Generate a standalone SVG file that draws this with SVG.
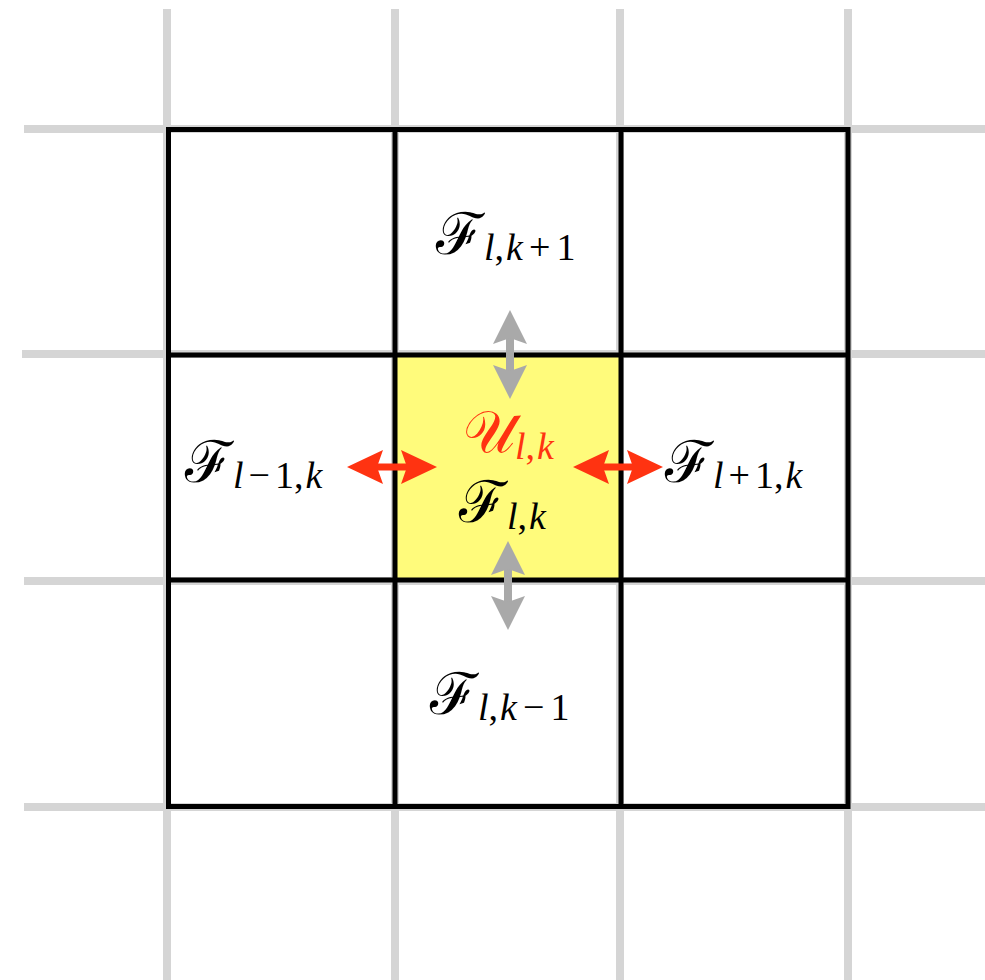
<svg xmlns="http://www.w3.org/2000/svg" width="985" height="980" viewBox="0 0 985 980">
<style>
.bg{stroke:#d5d5d5;stroke-width:8;fill:none}
.cell{fill:none;stroke:#000;stroke-width:5}
.main{font-family:"DejaVu Serif","Liberation Serif",serif;font-size:58px}
.sub{font-family:"Liberation Serif",serif;font-size:38px}
.it{font-style:italic}
.red{fill:#ff3311}
.blk{fill:#000}
.ar-red{stroke:#ff3311;stroke-width:7;fill:none}
.ar-gray{stroke:#a9a9a9;stroke-width:8;fill:none}
</style>
<defs>
<marker id="hr" markerUnits="userSpaceOnUse" markerWidth="60" markerHeight="60" refX="0" refY="0" viewBox="-30 -30 60 60" orient="auto-start-reverse" overflow="visible">
<path d="M20,0 L-16,-17 L-10,0 L-16,17 Z" fill="#ff3311"/>
</marker>
<marker id="hg" markerUnits="userSpaceOnUse" markerWidth="60" markerHeight="60" refX="0" refY="0" viewBox="-30 -30 60 60" orient="auto-start-reverse" overflow="visible">
<path d="M20,0 L-14,-17 L-8,0 L-14,17 Z" fill="#a9a9a9"/>
</marker>
</defs>
<rect width="985" height="980" fill="#fff"/>
<g id="background-grid" class="bg">
<line x1="167" y1="9" x2="167" y2="980"/>
<line x1="395" y1="9" x2="395" y2="980"/>
<line x1="620" y1="9" x2="620" y2="980"/>
<line x1="848" y1="9" x2="848" y2="980"/>
<line x1="24" y1="129" x2="985" y2="129"/>
<line x1="22" y1="354" x2="985" y2="354"/>
<line x1="24" y1="581" x2="985" y2="581"/>
<line x1="24" y1="807" x2="985" y2="807"/>
</g>
<g id="cell-center">
<rect x="395" y="355" width="226" height="226" fill="#fffb7b"/>
</g>
<g id="cells" class="cell">
<rect x="168.5" y="129.5" width="679.5" height="677"/>
<line x1="395" y1="129.5" x2="395" y2="806.5"/>
<line x1="621" y1="129.5" x2="621" y2="806.5"/>
<line x1="168.5" y1="355" x2="848" y2="355"/>
<line x1="168.5" y1="580" x2="848" y2="580"/>
</g>
<g id="label-top">
<text x="436" y="254" class="main blk">ℱ<tspan class="sub it" dy="6">l</tspan><tspan class="sub">,</tspan><tspan class="sub it" dx="2">k</tspan><tspan class="sub" dx="6">+</tspan><tspan class="sub" dx="6">1</tspan></text>
</g>
<g id="label-bottom">
<text x="430" y="714" class="main blk">ℱ<tspan class="sub it" dy="6">l</tspan><tspan class="sub">,</tspan><tspan class="sub it" dx="2">k</tspan><tspan class="sub" dx="6">−</tspan><tspan class="sub" dx="6">1</tspan></text>
</g>
<g id="label-left">
<text x="185" y="482" class="main blk">ℱ<tspan class="sub it" dy="6">l</tspan><tspan class="sub" dx="5">−</tspan><tspan class="sub" dx="5">1,</tspan><tspan class="sub it" dx="2">k</tspan></text>
</g>
<g id="label-right">
<text x="665" y="482" class="main blk">ℱ<tspan class="sub it" dy="6">l</tspan><tspan class="sub" dx="5">+</tspan><tspan class="sub" dx="5">1,</tspan><tspan class="sub it" dx="2">k</tspan></text>
</g>
<g id="label-center">
<text x="463" y="452" class="main red">𝒰<tspan class="sub it" dy="7">l</tspan><tspan class="sub">,</tspan><tspan class="sub it" dx="2">k</tspan></text>
<text x="459" y="522" class="main blk">ℱ<tspan class="sub it" dy="7">l</tspan><tspan class="sub">,</tspan><tspan class="sub it" dx="2">k</tspan></text>
</g>
<g id="connectors">
<line class="ar-red" x1="367" y1="467" x2="417" y2="467" marker-start="url(#hr)" marker-end="url(#hr)"/>
<line class="ar-red" x1="593" y1="467" x2="643" y2="467" marker-start="url(#hr)" marker-end="url(#hr)"/>
<line class="ar-gray" x1="510" y1="330" x2="510" y2="379" marker-start="url(#hg)" marker-end="url(#hg)"/>
<line class="ar-gray" x1="508" y1="561" x2="508" y2="610" marker-start="url(#hg)" marker-end="url(#hg)"/>
</g>
</svg>
